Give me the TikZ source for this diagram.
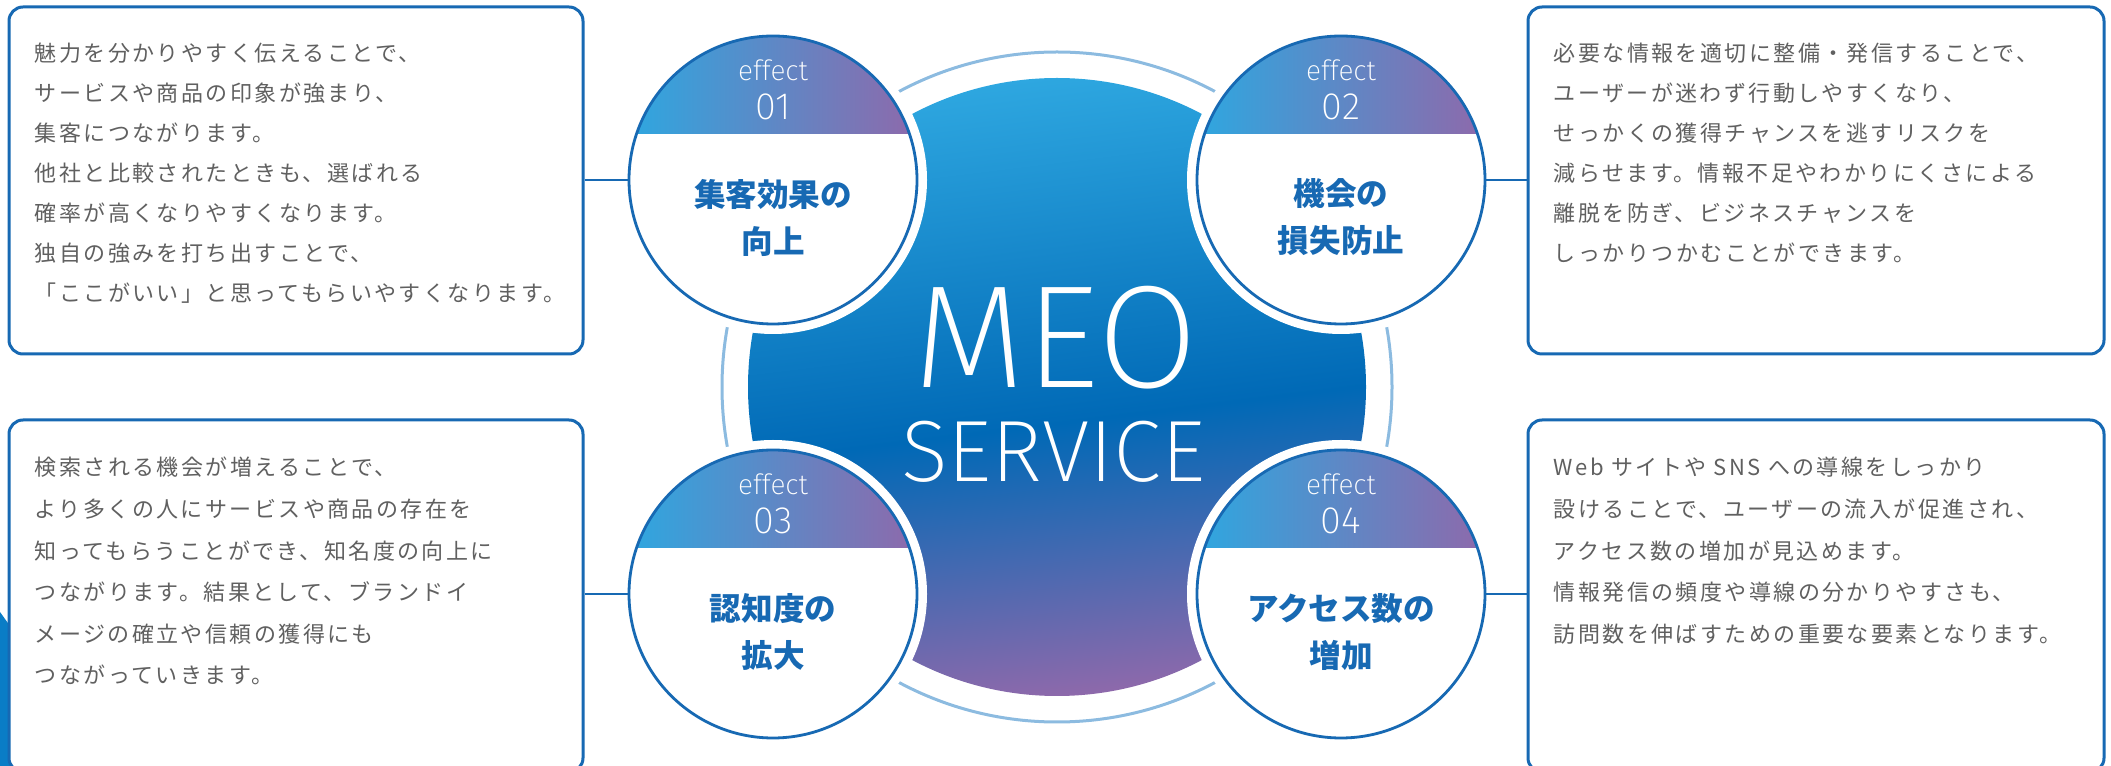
\documentclass[tikz,border=0pt]{standalone}
\usepackage{fontspec}
\usetikzlibrary{positioning}
\newfontfamily\jpfont{Noto Sans CJK JP}
\newfontfamily\jpbody{Noto Sans CJK JP}[LetterSpace=11]
\newfontfamily\thinfont{Fira Sans ExtraLight}
\definecolor{meoLight}{HTML}{2EA7E0}
\definecolor{meoBlue}{HTML}{0069B6}
\definecolor{meoPurple}{HTML}{8E69AB}
\definecolor{lineBlue}{HTML}{1769B3}
\definecolor{ringBlue}{HTML}{8CBBE0}
\definecolor{bodyGray}{HTML}{606060}
\definecolor{edgeBlue}{HTML}{0A7DC6}
\pgfdeclareverticalshading{meodisc}{100bp}{color(0bp)=(meoPurple); color(25bp)=(meoPurple); color(47bp)=(meoBlue); color(75bp)=(meoLight); color(100bp)=(meoLight)}

\begin{document}
\begin{tikzpicture}[x=0.5pt, y=0.5pt,
    infobox/.style={draw=lineBlue, line width=1.5pt, rounded corners=7pt, fill=white, inner sep=0pt},
    bodytext/.style={text=bodyGray, font=\jpbody\fontsize{11pt}{20pt}\selectfont, align=left, inner sep=0pt},
    effcircle/.style={circle, draw=lineBlue, line width=1.4pt, minimum size=144pt, inner sep=0pt},
    headfill/.style={left color=meoLight, middle color=meoBlue, right color=meoPurple},
    effword/.style={text=white, font=\thinfont\fontsize{14pt}{14pt}\selectfont, inner sep=0pt},
    effnum/.style={text=white, font=\thinfont\fontsize{19pt}{19pt}\selectfont, inner sep=0pt},
    efftitle/.style={text=lineBlue, font=\jpfont\bfseries\fontsize{15.8pt}{23.5pt}\selectfont, align=center, inner sep=0pt},
    meotext/.style={text=white, font=\thinfont\fontsize{73pt}{73pt}\selectfont, inner sep=0pt},
    linkline/.style={draw=lineBlue, line width=1.2pt}]

    \useasboundingbox (0,0) rectangle (2111,766);
    \clip (0,0) rectangle (2111,766);

    % centre disc and ring
    \shade[shading=meodisc, shading angle=7] (1057,379) circle (309);
    \draw[ringBlue, line width=1.5pt] (1057,379) circle (335);
    \fill[white] (773,586) circle (154) (1341,586) circle (154) (773,172) circle (154) (1341,172) circle (154);

    \node[meotext, anchor=base] (meo) at (1056,378) {MEO};
    \node[meotext, font=\thinfont\fontsize{43.5pt}{43.5pt}\selectfont, anchor=base] (svc) at (1053,284) {SERVICE};

    % coloured heads of the effect circles
    \begin{scope}
        \clip (773,586) circle (144) (1341,586) circle (144) (773,172) circle (144) (1341,172) circle (144);
        \shade[headfill] (629,632) rectangle (917,732);
        \shade[headfill] (1197,632) rectangle (1485,732);
        \shade[headfill] (629,218) rectangle (917,318);
        \shade[headfill] (1197,218) rectangle (1485,318);
    \end{scope}

    \node[effcircle] (e1) at (773,586) {};
    \node[effcircle] (e2) at (1341,586) {};
    \node[effcircle] (e3) at (773,172) {};
    \node[effcircle] (e4) at (1341,172) {};

    \node[effword] (w1) at ([yshift=55pt]e1.center) {effect};
    \node[effnum] (n1) at ([yshift=36.5pt]e1.center) {01};
    \node[efftitle] (t1) at ([yshift=-18.75pt]e1.center) {集客効果の\\向上};

    \node[effword] (w2) at ([yshift=55pt]e2.center) {effect};
    \node[effnum] (n2) at ([yshift=36.5pt]e2.center) {02};
    \node[efftitle] (t2) at ([yshift=-18.75pt]e2.center) {機会の\\損失防止};

    \node[effword] (w3) at ([yshift=55pt]e3.center) {effect};
    \node[effnum] (n3) at ([yshift=36.5pt]e3.center) {03};
    \node[efftitle] (t3) at ([yshift=-18.75pt]e3.center) {認知度の\\拡大};

    \node[effword] (w4) at ([yshift=55pt]e4.center) {effect};
    \node[effnum] (n4) at ([yshift=36.5pt]e4.center) {04};
    \node[efftitle] (t4) at ([yshift=-18.75pt]e4.center) {アクセス数の\\増加};

    % text boxes
    \fill[edgeBlue] (0,154) -- (10,140) -- (10,0) -- (0,0) -- cycle;
    \node[infobox, minimum width=287pt, minimum height=173.5pt] (b1) at (296,585.5) {};
    \node[infobox, minimum width=288pt, minimum height=173.5pt] (b2) at (1816,585.5) {};
    \node[infobox, minimum width=287pt, minimum height=176pt] (b3) at (296,170) {};
    \node[infobox, minimum width=288pt, minimum height=176pt] (b4) at (1816,170) {};

    \node[bodytext, below right=18.5pt and 13.5pt of b1.north west] (x1) {魅力を分かりやすく伝えることで、\\サービスや商品の印象が強まり、\\集客につながります。\\他社と比較されたときも、選ばれる\\確率が高くなりやすくなります。\\独自の強みを打ち出すことで、\\「ここがいい」と思ってもらいやすくなります。};
    \node[bodytext, below right=18.5pt and 13.5pt of b2.north west] (x2) {必要な情報を適切に整備・発信することで、\\ユーザーが迷わず行動しやすくなり、\\せっかくの獲得チャンスを逃すリスクを\\減らせます。情報不足やわかりにくさによる\\離脱を防ぎ、ビジネスチャンスを\\しっかりつかむことができます。};
    \node[bodytext, font=\jpbody\fontsize{11pt}{20.8pt}\selectfont, below right=19.2pt and 13.5pt of b3.north west] (x3) {検索される機会が増えることで、\\より多くの人にサービスや商品の存在を\\知ってもらうことができ、知名度の向上に\\つながります。結果として、ブランドイ\\メージの確立や信頼の獲得にも\\つながっていきます。};
    \node[bodytext, font=\jpbody\fontsize{11pt}{20.8pt}\selectfont, below right=19.2pt and 13.5pt of b4.north west] (x4) {Web サイトや SNS への導線をしっかり\\設けることで、ユーザーの流入が促進され、\\アクセス数の増加が見込めます。\\情報発信の頻度や導線の分かりやすさも、\\訪問数を伸ばすための重要な要素となります。};

    \draw[linkline] (b1.east |- e1.west) -- (e1.west);
    \draw[linkline] (e2.east) -- (b2.west |- e2.east);
    \draw[linkline] (b3.east |- e3.west) -- (e3.west);
    \draw[linkline] (e4.east) -- (b4.west |- e4.east);
\end{tikzpicture}
\end{document}
